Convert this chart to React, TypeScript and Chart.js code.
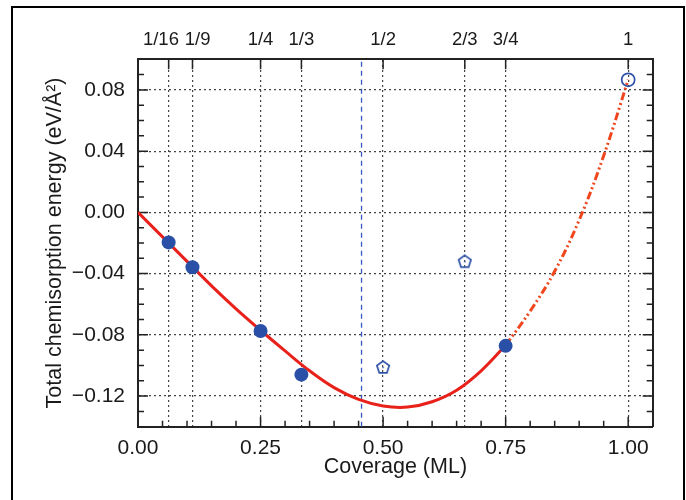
import React, { useEffect, useRef } from "react";
import { Chart, registerables } from "chart.js";

Chart.register(...registerables);

const FONT = "'Liberation Sans', Arial, Helvetica, sans-serif";

// Axis ticks / labels
const bottomTicks = [0, 0.25, 0.5, 0.75, 1.0];
const coverageFractions = [1 / 16, 1 / 9, 1 / 4, 1 / 3, 1 / 2, 2 / 3, 3 / 4, 1];
const topLabels = ["1/16   ", "  1/9", "1/4", "1/3", "1/2", "2/3", "3/4", "1"];
const yTicks = [-0.12, -0.08, -0.04, 0, 0.04, 0.08];

// Computed (stable) structures - filled circles
const stableX = [0.0625, 0.1111, 0.25, 0.3333, 0.75];
const stableY = [-0.0196, -0.0358, -0.0775, -0.106, -0.0872];

// Pentagons
const pentX = [0.5, 0.6667];
const pentY = [-0.101, -0.0319];

// Open circle (full coverage)
const fullX = [1.0];
const fullY = [0.0866];

// Fitted curve (solid)
const fitX = [0, 0.05, 0.1, 0.15, 0.2, 0.25, 0.3, 0.35, 0.4, 0.45, 0.5, 0.55, 0.6, 0.65, 0.7, 0.75];
const fitY = [0, -0.016, -0.032, -0.048, -0.063, -0.077, -0.0905, -0.1035, -0.1145, -0.1222, -0.1265, -0.1272, -0.1237, -0.1162, -0.1035, -0.0868];

// Extrapolated curve (dash-dot-dot)
const extX = [0.75, 0.8, 0.85, 0.9, 0.95, 1.0];
const extY = [-0.0868, -0.0645, -0.0385, -0.005, 0.037, 0.0866];

// Boundary line (blue dashed)
const boundaryX = [0.456, 0.456];
const boundaryY = [-0.14, 0.10];

const xs = (a: number[], b: number[]) => a.map((v, i) => ({ x: v, y: b[i] }));

function makePentagon(r: number, color: string) {
  const size = Math.ceil(2 * r + 5);
  const c = document.createElement("canvas");
  c.width = size;
  c.height = size;
  const ctx = c.getContext("2d")!;
  ctx.strokeStyle = color;
  ctx.lineWidth = 1.7;
  ctx.beginPath();
  for (let i = 0; i < 5; i++) {
    const a = -Math.PI / 2 + (i * 2 * Math.PI) / 5;
    const px = size / 2 + r * Math.cos(a);
    const py = size / 2 + 0.6 + r * Math.sin(a);
    if (i === 0) ctx.moveTo(px, py);
    else ctx.lineTo(px, py);
  }
  ctx.closePath();
  ctx.stroke();
  ctx.fillStyle = color;
  ctx.fillRect(size / 2 - 0.7, size / 2 - 0.2, 1.4, 1.4);
  return c;
}

const innerTicks = {
  id: "innerTicks",
  beforeDatasetsDraw(chart: any) {
    const { ctx, chartArea } = chart;
    const x = chart.scales.x;
    const y = chart.scales.y;
    ctx.save();
    ctx.strokeStyle = "#222";
    ctx.lineWidth = 1.5;
    ctx.beginPath();
    for (let i = 1; i <= 20; i++) {
      const v = i * 0.05;
      const px = x.getPixelForValue(v);
      const len = i % 5 === 0 ? 10 : 6;
      ctx.moveTo(px, chartArea.bottom);
      ctx.lineTo(px, chartArea.bottom - len);
    }
    coverageFractions.forEach((v) => {
      const px = x.getPixelForValue(v);
      ctx.moveTo(px, chartArea.top);
      ctx.lineTo(px, chartArea.top + 10);
    });
    for (let i = 1; i < 24; i++) {
      const v = -0.14 + i * 0.01;
      const py = y.getPixelForValue(v);
      const major = Math.abs(Math.round(v * 100)) % 4 === 0;
      const len = major ? 10 : 6;
      ctx.moveTo(chartArea.left, py);
      ctx.lineTo(chartArea.left + len, py);
      ctx.moveTo(chartArea.right, py);
      ctx.lineTo(chartArea.right - len, py);
    }
    ctx.stroke();
    ctx.restore();
  },
};

export default function App() {
  const ref = useRef<HTMLCanvasElement>(null);

  useEffect(() => {
    document.body.style.margin = "0";
    document.body.style.overflow = "hidden";
    const blue = "#2a4fa6";
    const pent = makePentagon(6.5, "#2f52a8");
    const chart = new Chart(ref.current!, {
      type: "scatter",
      data: {
        datasets: [
          {
            data: xs(stableX, stableY),
            backgroundColor: blue,
            borderColor: blue,
            pointRadius: 7,
            pointBorderWidth: 0,
            showLine: false,
          },
          {
            data: xs(fullX, fullY),
            backgroundColor: "rgba(255,255,255,0)",
            borderColor: "#2f52a8",
            pointRadius: 6.5,
            pointBorderWidth: 1.7,
            showLine: false,
          },
          {
            data: xs(pentX, pentY),
            pointStyle: pent as any,
            pointRadius: 7,
            showLine: false,
          },
          {
            data: xs(fitX, fitY),
            showLine: true,
            borderColor: "#e8221b",
            borderWidth: 3,
            pointRadius: 0,
            tension: 0.4,
          },
          {
            data: xs(extX, extY),
            showLine: true,
            borderColor: "#f0461e",
            borderWidth: 3,
            borderDash: [8, 3, 2, 3, 2, 3],
            pointRadius: 0,
            tension: 0.4,
          },
          {
            data: xs(boundaryX, boundaryY),
            showLine: true,
            borderColor: "#3558c0",
            borderWidth: 1.3,
            borderDash: [5, 4],
            pointRadius: 0,
          },
        ],
      },
      options: {
        responsive: false,
        animation: false,
        events: [],
        layout: { padding: 0 },
        plugins: { legend: { display: false }, tooltip: { enabled: false } },
        scales: {
          x: {
            type: "linear",
            position: "bottom",
            min: 0,
            max: 1.05,
            afterBuildTicks: (s: any) => {
              s.ticks = bottomTicks.map((v) => ({ value: v }));
            },
            afterFit: (s: any) => {
              s.height = 73.3;
            },
            ticks: {
              autoSkip: false,
              maxRotation: 0,
              padding: 9,
              color: "#1a1a1a",
              font: { family: FONT, size: 21 },
              callback: (v: any) => Number(v).toFixed(2),
            },
            grid: { display: false, drawTicks: false },
            border: { display: true, color: "#222", width: 2 },
            title: {
              display: true,
              text: "Coverage (ML)",
              color: "#1a1a1a",
              font: { family: FONT, size: 21.5 },
              padding: { top: 0, bottom: 20 },
            },
          },
          x2: {
            type: "linear",
            position: "top",
            min: 0,
            max: 1.05,
            afterBuildTicks: (s: any) => {
              s.ticks = coverageFractions.map((v) => ({ value: v }));
            },
            afterFit: (s: any) => {
              s.height = 59.3;
            },
            ticks: {
              autoSkip: false,
              maxRotation: 0,
              padding: 8,
              color: "#1a1a1a",
              font: { family: FONT, size: 18.5 },
              callback: (_v: any, i: number) => topLabels[i],
            },
            grid: { display: true, drawOnChartArea: true, drawTicks: false, color: "#444", lineWidth: 1.2 },
            border: { display: true, color: "#222", width: 2, dash: [2, 3] },
          },
          y: {
            type: "linear",
            position: "left",
            min: -0.14,
            max: 0.1,
            afterBuildTicks: (s: any) => {
              s.ticks = yTicks.map((v) => ({ value: v }));
            },
            afterFit: (s: any) => {
              s.width = 138;
            },
            ticks: {
              padding: 13,
              color: "#1a1a1a",
              font: { family: FONT, size: 21 },
              callback: (v: any) => {
                const n = Number(v);
                return (n < -1e-9 ? "\u2212" : "") + Math.abs(n).toFixed(2);
              },
            },
            grid: { display: true, drawTicks: false, color: "#444", lineWidth: 1.2 },
            border: { display: true, color: "#222", width: 2, dash: [2, 3] },
            title: {
              display: true,
              text: "Total chemisorption energy (eV/Å²)",
              color: "#1a1a1a",
              font: { family: FONT, size: 21.5 },
              padding: { top: 42, bottom: 0 },
            },
          },
          y2: {
            type: "linear",
            position: "right",
            min: -0.14,
            max: 0.1,
            afterFit: (s: any) => {
              s.width = 33.3;
            },
            ticks: { display: false },
            grid: { display: false, drawTicks: false },
            border: { display: true, color: "#222", width: 2 },
          },
        },
      },
      plugins: [innerTicks],
    });
    return () => chart.destroy();
  }, []);

  return (
    <div style={{ position: "relative", width: 686, height: 500, overflow: "hidden", background: "#fff" }}>
      <canvas ref={ref} width={686} height={500} style={{ position: "absolute", left: 0, top: 0 }} />
      <div
        style={{
          position: "absolute",
          left: 10.5,
          top: 5.5,
          width: 674,
          height: 600,
          border: "2.5px solid #000",
          boxSizing: "border-box",
          pointerEvents: "none",
        }}
      />
    </div>
  );
}
